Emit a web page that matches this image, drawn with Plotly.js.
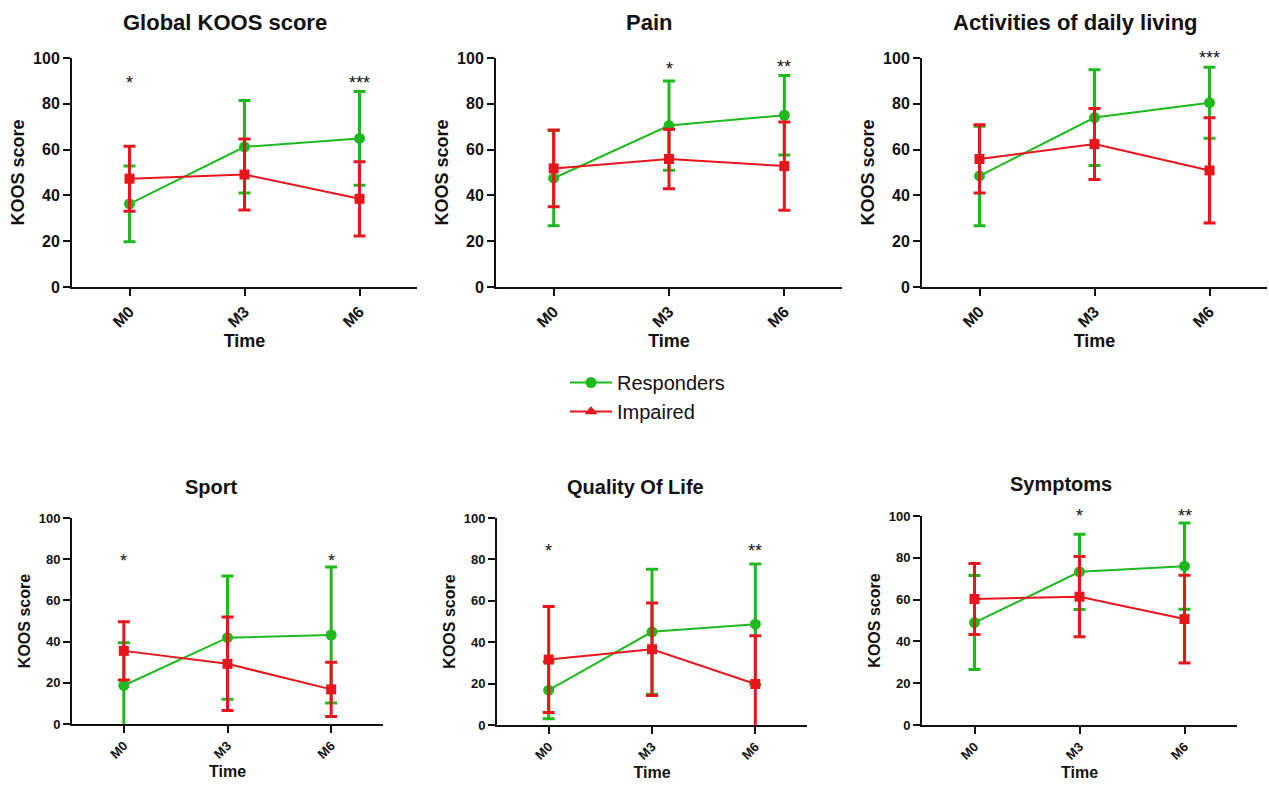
<!DOCTYPE html>
<html>
<head>
<meta charset="utf-8">
<script src="https://cdn.plot.ly/plotly-3.0.1.min.js"></script>
<style>html,body{margin:0;padding:0;background:#fff;}#chart{width:1269px;height:785px;}</style>
</head>
<body>
<div id="chart"></div>
<script>
// ---- data ----
const categories = ['M0', 'M3', 'M6'];
const panelTitles = ['Global KOOS score', 'Pain', 'Activities of daily living', 'Sport', 'Quality Of Life', 'Symptoms'];
const yTicks = [0, 20, 40, 60, 80, 100];

const globalResp = [36.3, 61.2, 64.9];   const globalRespSD = [16.5, 20.2, 20.5];
const globalImp  = [47.3, 49.1, 38.5];   const globalImpSD  = [14.2, 15.5, 16.2];
const painResp   = [47.5, 70.5, 75.0];   const painRespSD   = [20.8, 19.5, 17.4];
const painImp    = [51.8, 55.9, 52.8];   const painImpSD    = [16.8, 13.0, 19.3];
const adlResp    = [48.5, 74.0, 80.5];   const adlRespSD    = [21.7, 20.9, 15.5];
const adlImp     = [55.9, 62.4, 50.9];   const adlImpSD     = [14.9, 15.5, 23.0];
const sportResp  = [18.7, 41.9, 43.2];   const sportRespSD  = [20.7, 29.9, 33.0];
const sportImp   = [35.5, 29.2, 16.8];   const sportImpSD   = [14.1, 22.7, 13.2];
const qolResp    = [16.8, 45.0, 48.7];   const qolRespSD    = [13.8, 30.2, 29.1];
const qolImp     = [31.6, 36.6, 19.8];   const qolImpSD     = [25.6, 22.3, 23.3];
const sympResp   = [49.0, 73.3, 76.0];   const sympRespSD   = [22.5, 18.0, 20.6];
const sympImp    = [60.3, 61.4, 50.7];   const sympImpSD    = [17.0, 19.2, 21.0];

// significance marks per panel (label and height on the score axis)
const globalStars = ['*', '', '***'];  const globalStarY = [89, null, 89];
const painStars   = ['', '*', '**'];   const painStarY   = [null, 95, 96];
const adlStars    = ['', '', '***'];   const adlStarY    = [null, null, 100];
const sportStars  = ['*', '', '*'];    const sportStarY  = [79, null, 79];
const qolStars    = ['*', '', '**'];   const qolStarY    = [84, null, 84];
const sympStars   = ['', '*', '**'];   const sympStarY   = [null, 100, 100];

const seriesNames = ['Responders', 'Impaired'];
const GREEN = '#1eb91e';
const RED = '#e8161c';

const panelData = [
  [globalResp, globalRespSD, globalImp, globalImpSD, globalStars, globalStarY],
  [painResp, painRespSD, painImp, painImpSD, painStars, painStarY],
  [adlResp, adlRespSD, adlImp, adlImpSD, adlStars, adlStarY],
  [sportResp, sportRespSD, sportImp, sportImpSD, sportStars, sportStarY],
  [qolResp, qolRespSD, qolImp, qolImpSD, qolStars, qolStarY],
  [sympResp, sympRespSD, sympImp, sympImpSD, sympStars, sympStarY]
];

// ---- layout geometry (pixels of the 1269x785 figure) ----
const W = 1269, H = 785;
const boxes = [ // [left, right, top, bottom]
  [72, 417, 58, 287],
  [496, 842, 58, 287],
  [922, 1267, 58, 287],
  [72, 383, 518, 724],
  [497, 807, 518, 725],
  [922, 1237, 516, 725]
];
const titlePos = [[225, 23], [649, 23], [1075, 23], [211, 487], [636, 487], [1061, 484]];
const FAMILY = 'Liberation Sans, Arial, sans-serif';

const traces = [];
const annotations = [];
const layout = {
  width: W, height: H,
  margin: {l: 0, r: 0, t: 0, b: 0},
  paper_bgcolor: '#ffffff', plot_bgcolor: '#ffffff',
  font: {family: FAMILY, color: '#111'},
  showlegend: true,
  legend: {
    x: 565 / W, y: 1 - 363 / H, xanchor: 'left', yanchor: 'top',
    font: {size: 20, family: FAMILY, color: '#111'},
    bgcolor: 'rgba(0,0,0,0)', tracegroupgap: 0, itemwidth: 42
  },
  annotations: annotations
};

panelData.forEach((pd, i) => {
  const top = i < 3;
  const n = i + 1;
  const xa = 'x' + (n === 1 ? '' : n);
  const ya = 'y' + (n === 1 ? '' : n);
  const b = boxes[i];
  const tickFont = {size: top ? 16 : 13, weight: 'bold', family: FAMILY, color: '#111'};
  const axTitleFont = {size: top ? 18 : 16, weight: 'bold', family: FAMILY, color: '#111'};
  layout['xaxis' + (n === 1 ? '' : n)] = {
    domain: [b[0] / W, b[1] / W], anchor: ya, type: 'category',
    range: [-0.5, 2.5], showline: true, linecolor: '#111', linewidth: 2,
    ticks: 'outside', ticklen: 7, tickwidth: 2, tickcolor: '#111',
    tickangle: -45, tickfont: tickFont, showgrid: false, zeroline: false,
    title: {text: 'Time', font: axTitleFont, standoff: top ? 4 : 5}, fixedrange: true
  };
  layout['yaxis' + (n === 1 ? '' : n)] = {
    domain: [1 - b[3] / H, 1 - b[2] / H], anchor: xa,
    range: [0, 100], tickvals: yTicks, showline: true, linecolor: '#111', linewidth: 2,
    ticks: 'outside', ticklen: 7, tickwidth: 2, tickcolor: '#111',
    tickfont: tickFont, showgrid: false, zeroline: false,
    title: {text: 'KOOS score', font: axTitleFont, standoff: 4}, fixedrange: true
  };
  traces.push({
    type: 'scatter', mode: 'lines+markers', x: categories, y: pd[0],
    xaxis: xa, yaxis: ya, name: seriesNames[0], showlegend: false,
    line: {color: GREEN, width: 2}, marker: {color: GREEN, size: 11, symbol: 'circle'},
    error_y: {type: 'data', array: pd[1], visible: true, color: GREEN, thickness: 3, width: 6}
  });
  traces.push({
    type: 'scatter', mode: 'lines+markers', x: categories, y: pd[2],
    xaxis: xa, yaxis: ya, name: seriesNames[1], showlegend: false,
    line: {color: RED, width: 2}, marker: {color: RED, size: 10, symbol: 'square'},
    error_y: {type: 'data', array: pd[3], visible: true, color: RED, thickness: 3, width: 6}
  });
  annotations.push({
    text: panelTitles[i], xref: 'paper', yref: 'paper',
    x: titlePos[i][0] / W, y: 1 - titlePos[i][1] / H, xanchor: 'center', yanchor: 'middle',
    showarrow: false, font: {size: top ? 22 : 20, weight: 'bold', family: FAMILY, color: '#111'}
  });
  pd[4].forEach((s, k) => {
    if (!s) return;
    annotations.push({
      text: s, xref: xa, yref: ya, x: categories[k], y: pd[5][k],
      xanchor: 'center', yanchor: 'middle', showarrow: false,
      font: {size: 18, family: FAMILY, color: '#111'}
    });
  });
});

// legend entries
traces.push({type: 'scatter', mode: 'lines+markers', x: [null], y: [null], name: seriesNames[0],
  line: {color: GREEN, width: 2}, marker: {color: GREEN, size: 11, symbol: 'circle'}, hoverinfo: 'skip'});
traces.push({type: 'scatter', mode: 'lines+markers', x: [null], y: [null], name: seriesNames[1],
  line: {color: RED, width: 2}, marker: {color: RED, size: 11, symbol: 'triangle-up'}, hoverinfo: 'skip'});

Plotly.newPlot('chart', traces, layout, {displayModeBar: false, staticPlot: true});
</script>
</body>
</html>
